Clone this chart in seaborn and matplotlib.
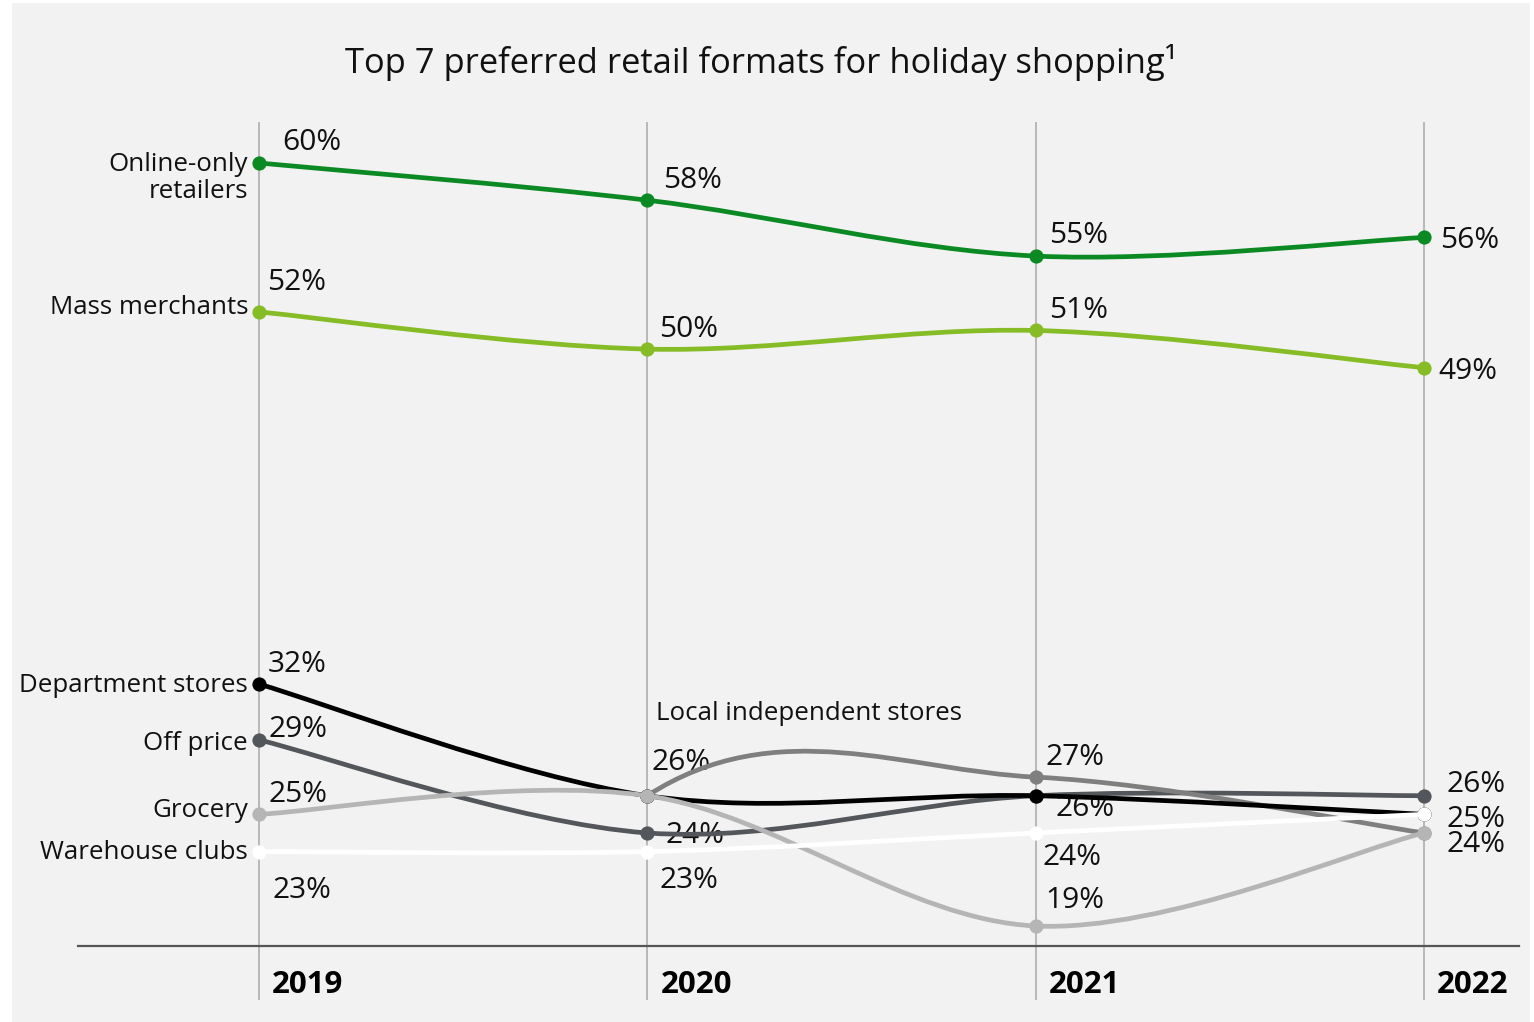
import numpy as np
import pandas as pd
import matplotlib
matplotlib.use("Agg")
import matplotlib.pyplot as plt
import seaborn as sns
from matplotlib.path import Path
from matplotlib.patches import PathPatch, Rectangle

# ---- data -----------------------------------------------------------------
years = [2019, 2020, 2021, 2022]
online_only = [60, 58, 55, 56]
mass_merchants = [52, 50, 51, 49]
off_price = [29, 24, 26, 26]
local_independent = [np.nan, 26, 27, 24]
department_stores = [32, 26, 26, 25]
grocery = [25, 26, 19, 24]
warehouse_clubs = [23, 23, 24, 25]

series = {
    "Online-only\nretailers": online_only,
    "Mass merchants": mass_merchants,
    "Off price": off_price,
    "Local independent stores": local_independent,
    "Department stores": department_stores,
    "Grocery": grocery,
    "Warehouse clubs": warehouse_clubs,
}

title = "Top 7 preferred retail formats for holiday shopping\u00b9"

# ---- styling --------------------------------------------------------------
colors = {
    "Online-only\nretailers": "#0b8a23",
    "Mass merchants": "#86bc25",
    "Off price": "#53565a",
    "Local independent stores": "#7f7f7f",
    "Department stores": "#000000",
    "Grocery": "#b5b5b5",
    "Warehouse clubs": "#ffffff",
}

# value label placement: (dx, dy) in pixels, dx to text left edge,
# dy to text baseline (positive = up); coinciding values share one label
label_offsets = {
    ("Online-only\nretailers", 2019): (23, 13),
    ("Online-only\nretailers", 2020): (16, 12),
    ("Online-only\nretailers", 2021): (13, 13),
    ("Online-only\nretailers", 2022): (16, -11),
    ("Mass merchants", 2019): (8, 22),
    ("Mass merchants", 2020): (12, 12),
    ("Mass merchants", 2021): (13, 12),
    ("Mass merchants", 2022): (14, -11),
    ("Department stores", 2019): (9, 12),
    ("Department stores", 2021): (20, -20),
    ("Off price", 2019): (9, 3),
    ("Off price", 2020): (18, -10),
    ("Off price", 2022): (23, 4),
    ("Local independent stores", 2020): (4, 26),
    ("Local independent stores", 2021): (10, 12),
    ("Grocery", 2019): (9, 12),
    ("Grocery", 2021): (10, 18),
    ("Grocery", 2022): (23, -19),
    ("Warehouse clubs", 2019): (14, -46),
    ("Warehouse clubs", 2020): (12, -36),
    ("Warehouse clubs", 2021): (7, -32),
    ("Warehouse clubs", 2022): (23, -13),
}

# series name placement: (anchor year, dx, dy baseline, ha)
name_offsets = {
    "Online-only\nretailers": (2019, -11, -35, "right"),
    "Mass merchants": (2019, -11, -2, "right"),
    "Department stores": (2019, -11, -8, "right"),
    "Off price": (2019, -11, -10, "right"),
    "Grocery": (2019, -11, -3, "right"),
    "Warehouse clubs": (2019, -11, -7, "right"),
    "Local independent stores": (2020, 9, 76, "left"),
}

zorders = {name: 3 + i for i, name in enumerate(series)}

W, H, DPI = 1534, 1022, 100
PX = 72.0 / DPI  # points per pixel

sns.set_theme(style="white")
plt.rcParams["font.family"] = ["Open Sans", "DejaVu Sans"]
plt.rcParams["text.color"] = "#111111"

fig = plt.figure(figsize=(W / DPI, H / DPI), dpi=DPI)
fig.patch.set_facecolor("white")
panel = Rectangle((12 / W, 0), (1530 - 12) / W, 1 - 3 / H,
                  transform=fig.transFigure, facecolor="#f2f2f2",
                  edgecolor="none", zorder=-10)
fig.patches.append(panel)

ax_l, ax_r, ax_t, ax_b = 78, 1519, 122, 946
ax = fig.add_axes([ax_l / W, 1 - ax_b / H, (ax_r - ax_l) / W, (ax_b - ax_t) / H])
ax.set_facecolor("none")
ax.set_zorder(1)

x_px_per_year = (1424 - 259) / 3.0
y_px_per_pct = (926 - 163) / 41.0
x0 = 2019 - (259 - ax_l) / x_px_per_year
x1 = 2022 + (ax_r - 1424) / x_px_per_year
y1 = 60 + (163 - ax_t) / y_px_per_pct
y0 = 60 - (ax_b - 163) / y_px_per_pct
ax.set_xlim(x0, x1)
ax.set_ylim(y0, y1)

for s in ["top", "right", "left"]:
    ax.spines[s].set_visible(False)
ax.spines["bottom"].set_color("#555555")
ax.spines["bottom"].set_linewidth(1.6)
ax.set_xticks([])
ax.set_yticks([])

# vertical year guides run a little below the baseline
grid_bottom = y0 - (1000 - ax_b) / y_px_per_pct
ax.vlines(years, grid_bottom, y1, color="#b3b3b3", lw=1.3, clip_on=False, zorder=1)


def smooth_path(xs, ys):
    """Cardinal (Catmull-Rom) curve through the points; a gap next to the
    drawn run counts as zero when shaping the curve."""
    xs = np.asarray(xs, float)
    ys = np.asarray(ys, float)
    n = len(xs)
    valid = [i for i in range(n) if not np.isnan(ys[i])]

    def point(i):
        i = min(max(i, 0), n - 1)
        y = ys[i]
        return np.array([xs[i], 0.0 if np.isnan(y) else y])

    def tangent(i):
        lo = point(i - 1) if i - 1 >= 0 else point(i)
        hi = point(i + 1) if i + 1 < n else point(i)
        return (hi - lo) / 2.0

    verts, codes = [point(valid[0])], [Path.MOVETO]
    for a, b in zip(valid[:-1], valid[1:]):
        pa, pb = point(a), point(b)
        verts += [pa + tangent(a) / 3.0, pb - tangent(b) / 3.0, pb]
        codes += [Path.CURVE4] * 3
    return Path(verts, codes)


rows = []
for name, vals in series.items():
    for yr, v in zip(years, vals):
        rows.append({"format": name, "year": yr, "share": v})
df = pd.DataFrame(rows).dropna()

PCT_SIZE = 21.5
NAME_SIZE = 18.6

for name, vals in series.items():
    z = zorders[name]
    col = colors[name]
    ax.add_patch(PathPatch(smooth_path(years, vals), facecolor="none",
                           edgecolor=col, lw=3.4, capstyle="round",
                           joinstyle="round", zorder=z))
    sub = df[df["format"] == name]
    sns.scatterplot(data=sub, x="year", y="share", ax=ax, color=col, s=105,
                    linewidth=0, legend=False, zorder=z + 0.5, clip_on=False)

    for yr, v in zip(years, vals):
        key = (name, yr)
        if key in label_offsets and not np.isnan(v):
            dx, dy = label_offsets[key]
            ax.annotate(f"{v:.0f}%", xy=(yr, v), xytext=(dx * PX, dy * PX),
                        textcoords="offset points", ha="left", va="baseline",
                        fontsize=PCT_SIZE, zorder=2)

    yr, dx, dy, ha = name_offsets[name]
    v = vals[years.index(yr)]
    ax.annotate(name, xy=(yr, v), xytext=(dx * PX, dy * PX),
                textcoords="offset points", ha=ha, va="baseline",
                multialignment="right", fontsize=NAME_SIZE, zorder=2,
                linespacing=1.1)

# year labels under the baseline
for yr in years:
    ax.annotate(str(yr), xy=(yr, y0), xytext=(13 * PX, -(993 - ax_b) * PX),
                textcoords="offset points", ha="left", va="baseline",
                fontsize=22.5, fontweight="bold", color="#000000",
                annotation_clip=False)

fig.text(761 / W, 1 - 73 / H, title, ha="center", va="baseline", fontsize=24.8)

fig.savefig("out.png", dpi=DPI, facecolor=fig.get_facecolor())
